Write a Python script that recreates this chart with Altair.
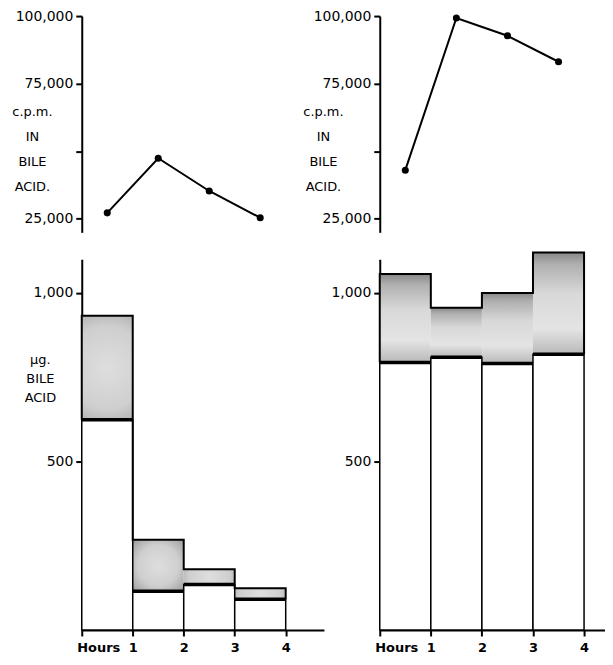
import altair as alt
import pandas as pd

# ---------------- data ----------------
hour_start = [0, 1, 2, 3]
hour_end = [1, 2, 3, 4]
mid_hours = [0.5, 1.5, 2.5, 3.5]

cpm_left = [27200, 47400, 35300, 25400]
cpm_right = [43000, 99300, 92700, 83100]

total_left = [932, 268, 180, 124]
base_left = [624, 115, 135, 91]
total_right = [1056, 956, 1000, 1120]
base_right = [794, 809, 791, 818]

x_ticks = [0, 1, 2, 3, 4]
cpm_ticks = [25000, 50000, 75000, 100000]
ug_ticks = [500, 1000]

cpm_title = ["c.p.m.", "IN", "BILE", "ACID."]
ug_title = ["\u00b5g.", "BILE", "ACID"]

FONT = "DejaVu Sans"

radial_fill = alt.RadialGradient(
    gradient="radial",
    stops=[
        alt.GradientStop(color="#dedede", offset=0),
        alt.GradientStop(color="#cfcfcf", offset=0.55),
        alt.GradientStop(color="#ababab", offset=0.85),
        alt.GradientStop(color="#8a8a8a", offset=1),
    ],
    x1=0.5, y1=0.5, r1=0, x2=0.5, y2=0.5, r2=0.72,
)

linear_fill = alt.LinearGradient(
    gradient="linear",
    stops=[
        alt.GradientStop(color="#888888", offset=0),
        alt.GradientStop(color="#b0b0b0", offset=0.12),
        alt.GradientStop(color="#d8d8d8", offset=0.4),
        alt.GradientStop(color="#e4e4e4", offset=0.75),
        alt.GradientStop(color="#b8b8b8", offset=1),
    ],
    x1=0, x2=0, y1=0, y2=1,
)


def top_panel(values, xmax, width, title_x):
    df = pd.DataFrame({"hour": mid_hours, "cpm": values})
    x = alt.X("hour:Q", scale=alt.Scale(domain=[0, xmax], nice=False, zero=False), axis=None)
    y = alt.Y(
        "cpm:Q",
        scale=alt.Scale(domain=[20000, 100000], nice=False, zero=False),
        axis=alt.Axis(
            values=cpm_ticks,
            labelExpr="datum.value == 50000 ? '' : format(datum.value, ',')",
            title=cpm_title,
            titleAngle=0,
            titleX=title_x,
            titleY=90,
            titleAlign="center",
            titleBaseline="top",
            titleLineHeight=25,
            titleFontSize=13,
            titleFontWeight="normal",
            titleFont=FONT,
            titleColor="black",
            grid=False,
        ),
    )
    line = alt.Chart(df).mark_line(color="black", strokeWidth=2).encode(x=x, y=y)
    pts = alt.Chart(df).mark_point(filled=True, color="black", size=50, opacity=1).encode(x=x, y=y)
    return (line + pts).properties(width=width, height=217)


def bottom_panel(total, base, xmax, width, with_title, fill):
    df = pd.DataFrame({"start": hour_start, "end": hour_end, "total": total, "base": base})
    # outline of the shaded region, built from the same arrays
    ox, oy = [hour_start[0], hour_start[0]], [base[0], total[0]]
    for i in range(len(total)):
        ox += [hour_end[i]]
        oy += [total[i]]
        if i + 1 < len(total):
            ox += [hour_end[i]]
            oy += [total[i + 1]]
    ox += [hour_end[-1]]
    oy += [base[-1]]
    outline = pd.DataFrame({"hx": ox, "val": oy, "order": list(range(len(ox)))})

    xs = alt.Scale(domain=[0, xmax], nice=False, zero=False)
    ys = alt.Scale(domain=[0, 1100], nice=False, zero=False)
    x_axis = alt.Axis(
        values=x_ticks,
        labelExpr="datum.value == 0 ? 'Hours' : format(datum.value, 'd')",
        labelOffset={"condition": {"test": "datum.value == 0", "value": -5}, "value": 0},
        title=None,
        labelFontWeight="bold",
        labelFontSize=13,
        labelPadding=6,
        labelOverlap=False,
        grid=False,
    )
    common = dict(values=ug_ticks, labelExpr="format(datum.value, ',')", grid=False)
    if with_title:
        y_axis = alt.Axis(
            **common,
            title=ug_title, titleAngle=0, titleX=-42, titleY=95,
            titleAlign="center", titleBaseline="top", titleLineHeight=19,
            titleFontSize=13, titleFontWeight="normal", titleFont=FONT, titleColor="black",
        )
    else:
        y_axis = alt.Axis(**common, title=None)

    shade = alt.Chart(df).mark_rect(fill=fill).encode(
        x=alt.X("start:Q", scale=xs, axis=x_axis), x2="end:Q",
        y=alt.Y("base:Q", scale=ys, axis=y_axis), y2="total:Q",
    )
    white = alt.Chart(df).mark_rect(fill="white", stroke="black", strokeWidth=1.5).encode(
        x=alt.X("start:Q", scale=xs, axis=x_axis), x2="end:Q",
        y=alt.Y("base:Q", scale=ys, axis=y_axis), y2=alt.datum(0),
    )
    edge = alt.Chart(outline).mark_line(color="black", strokeWidth=2, strokeJoin="miter").encode(
        x=alt.X("hx:Q", scale=xs, axis=x_axis),
        y=alt.Y("val:Q", scale=ys, axis=y_axis),
        order="order:Q",
    )
    base_line = alt.Chart(df).mark_rule(color="black", strokeWidth=3.5).encode(
        x=alt.X("start:Q", scale=xs, axis=x_axis), x2="end:Q",
        y=alt.Y("base:Q", scale=ys, axis=y_axis),
    )
    return (shade + white + edge + base_line).properties(width=width, height=372)


W_LEFT, X_LEFT = 243, 4.75
W_RIGHT, X_RIGHT = 226, 4.41

tl = top_panel(cpm_left, X_LEFT, W_LEFT, -50)
tr = top_panel(cpm_right, X_RIGHT, W_RIGHT, -57)
bl = bottom_panel(total_left, base_left, X_LEFT, W_LEFT, True, radial_fill)
br = bottom_panel(total_right, base_right, X_RIGHT, W_RIGHT, False, linear_fill)

chart = (
    alt.concat(tl, tr, bl, br, columns=2, spacing={"row": 27, "column": 56}, bounds="flush")
    .properties(padding={"left": 3, "top": 0, "right": 0, "bottom": 0}, background="white")
    .configure_view(stroke=None)
    .configure_axis(
        domainColor="black",
        domainWidth=2,
        tickColor="black",
        tickWidth=2,
        tickSize=6,
        labelColor="black",
        labelFont=FONT,
        labelFontSize=14,
        labelPadding=3,
    )
)

chart.save("out.html", embed_options={"renderer": "svg", "actions": False})
